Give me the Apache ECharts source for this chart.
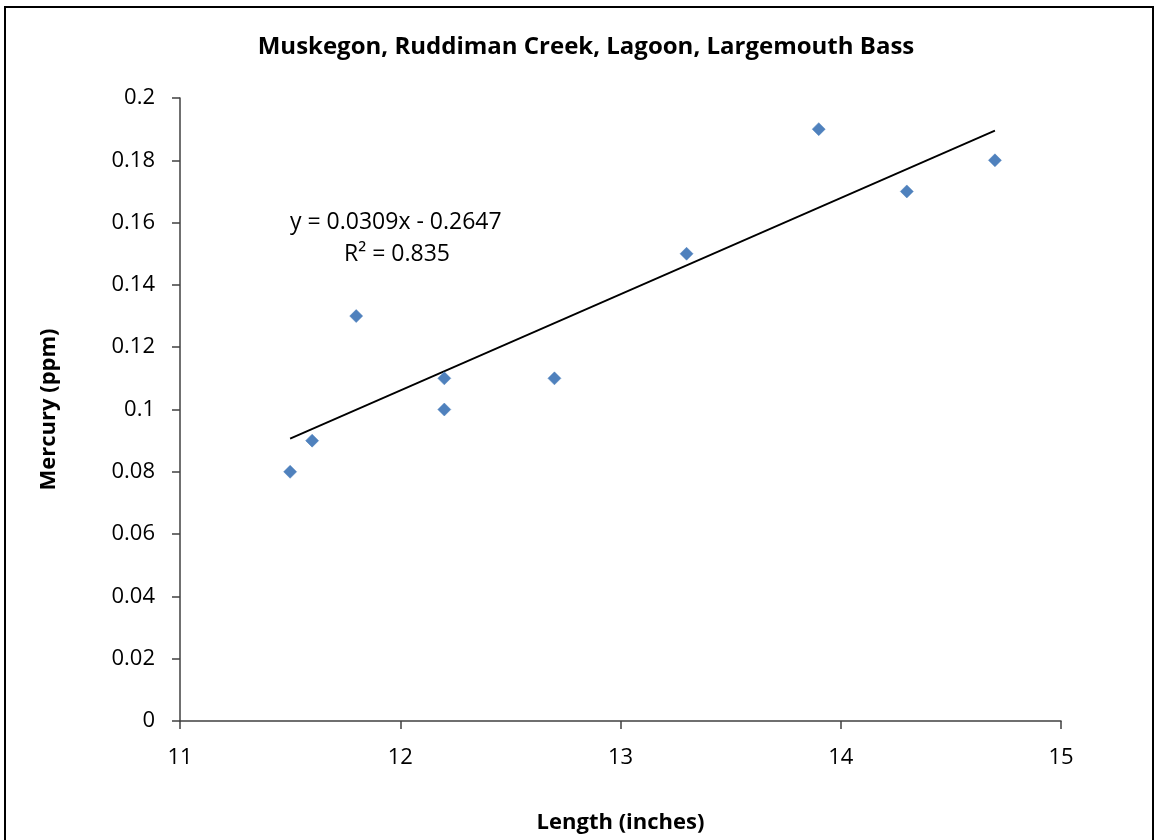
<!DOCTYPE html>
<html>
<head>
<meta charset="utf-8">
<script src="https://cdn.jsdelivr.net/npm/echarts@6/dist/echarts.min.js"></script>
<style>
html,body{margin:0;padding:0;background:#fff;}
#frame{position:absolute;left:4px;top:6px;width:1150px;height:860px;border:2px solid #000;box-sizing:border-box;}
#chart{position:absolute;left:0;top:0;width:1156px;height:840px;}
</style>
</head>
<body>
<div id="frame"></div>
<div id="chart"></div>
<script>
var lengths = [11.5, 11.6, 11.8, 12.2, 12.2, 12.7, 13.3, 13.9, 14.3, 14.7];
var mercury = [0.08, 0.09, 0.13, 0.11, 0.10, 0.11, 0.15, 0.19, 0.17, 0.18];
var trendSlope = 0.0309;
var trendIntercept = -0.2647;
var trendLabel = ['y = 0.0309x - 0.2647', 'R\u00B2 = 0.835'];
var titleText = 'Muskegon, Ruddiman Creek, Lagoon, Largemouth Bass';
var xTitle = 'Length (inches)';
var yTitle = 'Mercury (ppm)';

var pts = lengths.map(function(x, i){ return [x, mercury[i]]; });
var xMin = Math.min.apply(null, lengths), xMax = Math.max.apply(null, lengths);
var trend = [[xMin, trendSlope*xMin + trendIntercept], [xMax, trendSlope*xMax + trendIntercept]];

var FONT = 'Open Sans';
var chart = echarts.init(document.getElementById('chart'), null, {renderer:'canvas'});
chart.setOption({
  animation:false,
  backgroundColor:'transparent',
  title:{text:titleText, top:30, left:581, textAlign:'center',
    textStyle:{fontFamily:FONT, fontWeight:'bold', fontSize:24, color:'#000'}},
  grid:{left:180, right:95, top:98, bottom:119, containLabel:false},
  xAxis:{type:'value', min:11, max:15, interval:1,
    name:xTitle, nameLocation:'middle', nameGap:91,
    nameTextStyle:{fontFamily:FONT, fontWeight:'bold', fontSize:22, color:'#000'},
    axisLine:{show:true, lineStyle:{color:'#404040', width:1.5}},
    axisTick:{show:true, inside:false, length:8, lineStyle:{color:'#404040', width:1.5}},
    axisLabel:{fontFamily:FONT, fontSize:22, color:'#000', margin:26},
    splitLine:{show:false}},
  yAxis:{type:'value', min:0, max:0.2, interval:0.02,
    name:yTitle, nameLocation:'middle', nameGap:120,
    nameTextStyle:{fontFamily:FONT, fontWeight:'bold', fontSize:22, color:'#000'},
    axisLine:{show:true, lineStyle:{color:'#404040', width:1.5}},
    axisTick:{show:true, inside:false, length:8, lineStyle:{color:'#404040', width:1.5}},
    axisLabel:{fontFamily:FONT, fontSize:22, color:'#000', margin:25,
      formatter:function(v){ return String(+v.toFixed(2)); }},
    splitLine:{show:false}},
  series:[
    {type:'line', data:trend, symbol:'none', lineStyle:{color:'#000', width:1.8}, z:2, silent:true},
    {type:'scatter', data:pts, symbol:'diamond', symbolSize:13,
      itemStyle:{color:'#4F81BD', borderColor:'#4A7EBB', borderWidth:0.5, opacity:1}, z:3}
  ],
  graphic:[
    {type:'text', left:290, top:211, style:{text:trendLabel[0], font:'23px "Open Sans"', fill:'#000'}},
    {type:'text', left:344, top:243, style:{text:trendLabel[1], font:'23px "Open Sans"', fill:'#000'}}
  ]
});
</script>
</body>
</html>
